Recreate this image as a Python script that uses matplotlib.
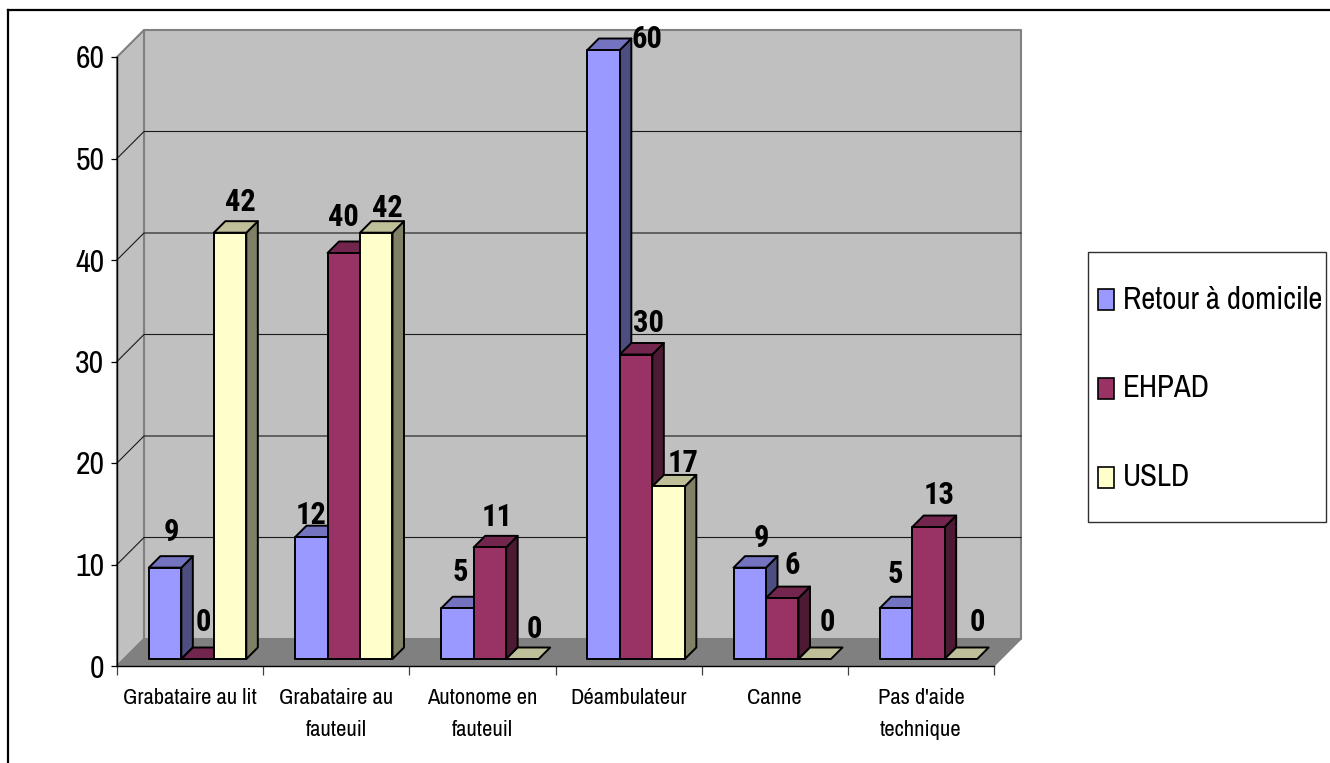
import matplotlib
matplotlib.use("Agg")
import matplotlib.pyplot as plt
from matplotlib.lines import Line2D
from matplotlib.patches import Polygon, Rectangle

W, H = 1330, 763

categories = ["Grabataire au lit", "Grabataire au\nfauteuil", "Autonome en\nfauteuil",
              "Déambulateur", "Canne", "Pas d'aide\ntechnique"]
domicile = [9, 12, 5, 60, 9, 5]
ehpad = [0, 40, 11, 30, 6, 13]
usld = [42, 42, 0, 17, 0, 0]
series_names = ["Retour à domicile", "EHPAD", "USLD"]
y_ticks = [0, 10, 20, 30, 40, 50, 60]

# front, side, top colours of each series
front_cols = ["#9999FF", "#993366", "#FFFFCC"]
side_cols = ["#4D4D80", "#4D1A33", "#808066"]
top_cols = ["#7373BF", "#73264D", "#BFBF99"]

# hand placed labels, pixels from the front top centre of the bar
label_dx = [[6, 0, 3, 43, 12, -1], [6, 0, 7, 12, 10, 11], [10, 11, 12, 14, 13, 16]]
label_dy = [[36, 22, 36, 11, 30, 34], [37, 36, 30, 31, 33, 32], [31, 25, 30, 23, 37, 37]]

plt.rcParams["font.family"] = ["Archivo Narrow", "Liberation Sans"]
BOLD_FONT = ["Roboto Condensed", "Liberation Sans"]

fig = plt.figure(figsize=(W / 100, H / 100), dpi=100)
ax = fig.add_axes([117 / W, 1 - 666 / H, 877 / W, 609 / H])
ax.set_xlim(0, 6)
ax.set_ylim(0, 60)

# one pixel in data units, for the fake depth
PX_X = 6 / 877
PX_Y = 60 / 609
WALL_DEPTH = 27
BAR_START = 7
BAR_DEPTH = 11.5
BAR_W = 32.5 / 146.2


def off(x, y, d):
    return (x + d * PX_X, y + d * PX_Y)


def poly(points, fc, ec, lw, z):
    ax.add_patch(Polygon(points, closed=True, facecolor=fc, edgecolor=ec, linewidth=lw,
                         joinstyle="round", zorder=z, clip_on=False))


# walls and floor
poly([off(0, 0, WALL_DEPTH), off(6, 0, WALL_DEPTH), off(6, 60, WALL_DEPTH), off(0, 60, WALL_DEPTH)],
     "#C0C0C0", "#808080", 1.5, 1)
poly([(0, 0), off(0, 0, WALL_DEPTH), off(0, 60, WALL_DEPTH), (0, 60)], "#C0C0C0", "#808080", 1.5, 1)
poly([(0, 0), (6, 0), off(6, 0, WALL_DEPTH), off(0, 0, WALL_DEPTH)], "#808080", "#808080", 1.0, 1)

for v in y_ticks[1:-1]:
    a = off(0, v, WALL_DEPTH)
    b = off(6, v, WALL_DEPTH)
    ax.plot([0, a[0], b[0]], [v, a[1], b[1]], color="#1A1A1A", lw=0.8, zorder=2, clip_on=False)

# bars, left to right so the next front covers the previous side
all_series = [domicile, ehpad, usld]
gap = (1 - 3 * BAR_W) / 2 + 0.5 * PX_X
z = 3
for i in range(len(categories)):
    for s, values in enumerate(all_series):
        v = values[i]
        x0 = i + gap + s * BAR_W
        x1 = x0 + BAR_W
        side = [off(x1, 0, BAR_START), off(x1, 0, BAR_START + BAR_DEPTH),
                off(x1, v, BAR_START + BAR_DEPTH), off(x1, v, BAR_START)]
        top = [off(x0, v, BAR_START), off(x1, v, BAR_START),
               off(x1, v, BAR_START + BAR_DEPTH), off(x0, v, BAR_START + BAR_DEPTH)]
        front = [off(x0, 0, BAR_START), off(x1, 0, BAR_START), off(x1, v, BAR_START), off(x0, v, BAR_START)]
        if v > 0:
            poly(side, side_cols[s], "black", 1.4, z)
        poly(top, top_cols[s], "black", 1.4, z)
        if v > 0:
            poly(front, front_cols[s], "black", 1.4, z)
        z += 1

for s, values in enumerate(all_series):
    for i, v in enumerate(values):
        xc = i + gap + (s + 0.5) * BAR_W
        ax.annotate(str(v), xy=off(xc, v, BAR_START), xytext=(label_dx[s][i], label_dy[s][i]),
                    textcoords="offset pixels", ha="center", va="center", fontsize=22,
                    fontweight="bold", family=BOLD_FONT, color="black", zorder=100, annotation_clip=False)

# axes
for name in ["top", "right"]:
    ax.spines[name].set_visible(False)
ax.spines["left"].set_linewidth(1.0)
ax.spines["bottom"].set_linewidth(1.0)
ax.spines["left"].set_zorder(50)
ax.spines["bottom"].set_zorder(50)
ax.set_yticks(y_ticks)
ax.tick_params(axis="y", length=4.5, width=0.9, pad=4.5, labelsize=23)
ax.set_xticks(range(7))
ax.set_xticklabels([])
ax.tick_params(axis="x", which="major", length=6.5, width=0.9, color="#404040")
ax.set_xticks([i + 0.5 for i in range(6)], minor=True)
ax.set_xticklabels(categories, minor=True, fontsize=16.2, linespacing=1.75)
ax.tick_params(axis="x", which="minor", length=0, pad=16)


def fx(px):
    return px / W


def fy(py):
    return 1 - py / H


# legend box drawn by hand, mpl legend has same padding on all sides
fig.add_artist(Rectangle((fx(1088), fy(522)), 238 / W, 270 / H, facecolor="white", edgecolor="#303030",
                         linewidth=1.0, transform=fig.transFigure))
for name, col, yc in zip(series_names, front_cols, [299.5, 388.5, 477]):
    fig.add_artist(Rectangle((fx(1098), fy(yc + 10.5)), 15.5 / W, 21 / H, facecolor=col, edgecolor="black",
                             linewidth=1.2, transform=fig.transFigure))
    fig.text(fx(1123), fy(yc), name, fontsize=22.2, ha="left", va="center")

# chart area border, only top and left are in the picture
fig.add_artist(Line2D([fx(8), fx(8)], [0, fy(10)], color="black", lw=1.6))
fig.add_artist(Line2D([fx(8), 1], [fy(10), fy(10)], color="black", lw=1.6))

fig.savefig("out.png", dpi=100)
